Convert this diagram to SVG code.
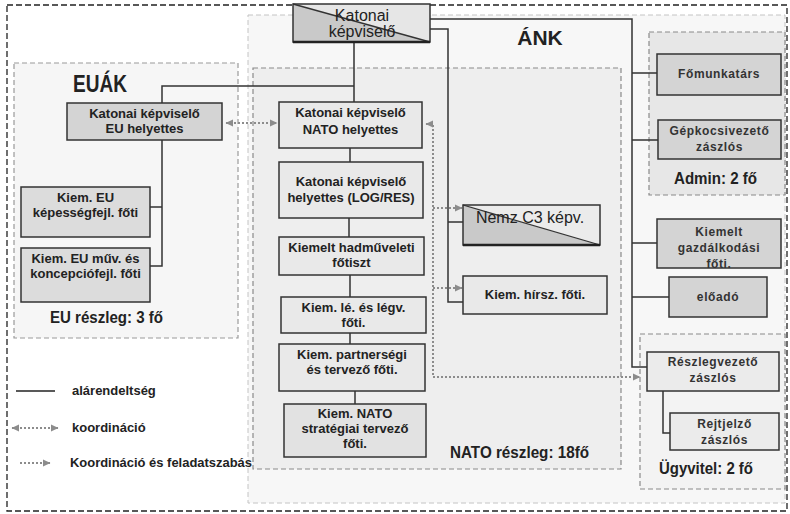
<svg xmlns="http://www.w3.org/2000/svg" width="790" height="514" viewBox="0 0 790 514">
<defs>
<marker id="ah" markerWidth="8" markerHeight="8" refX="7" refY="4" orient="auto-start-reverse" markerUnits="userSpaceOnUse">
<path d="M0,0.5 L7.5,4 L0,7.5 Z" fill="#8c8c8c"/>
</marker>
</defs>
<style>
text{font-family:"Liberation Sans",Arial,sans-serif;fill:#222}
.t{font-weight:bold;font-size:13px;text-anchor:middle}
.tr{font-weight:bold;font-size:12px;text-anchor:middle;letter-spacing:0.6px;fill:#333}
.big{font-weight:bold;font-size:16px}
.lg{font-weight:bold;font-size:13px}
.box{stroke:#333;stroke-width:1.5}
.nato{fill:#e9e9e9}
.dark{fill:#d4d4d4}
.con{fill:none;stroke:#333;stroke-width:1.5}
.dot{fill:none;stroke:#8c8c8c;stroke-width:2;stroke-dasharray:2 2}
</style>
<rect x="0" y="0" width="790" height="514" fill="#fff"/>
<g id="regions">
<rect x="248" y="15" width="537" height="488" fill="#f7f7f7" stroke="#c4c4c4" stroke-width="1" stroke-dasharray="5 3"/>
<rect x="14" y="63" width="224" height="275" fill="#f6f6f6" stroke="#9a9a9a" stroke-width="1.2" stroke-dasharray="5 3"/>
<rect x="253" y="68" width="368" height="401" fill="#eeeeee" stroke="#8a8a8a" stroke-width="1.2" stroke-dasharray="5 3"/>
<rect x="649" y="32" width="136" height="163" fill="#e7e7e7" stroke="#8a8a8a" stroke-width="1.2" stroke-dasharray="5 3"/>
<rect x="640" y="334" width="145" height="155" fill="#f3f3f3" stroke="#8a8a8a" stroke-width="1.2" stroke-dasharray="5 3"/>
<rect x="7" y="5" width="780" height="506" fill="none" stroke="#222" stroke-width="1.3" stroke-dasharray="6 3"/>
</g>
<g id="labels">
<text x="73" y="92" font-weight="bold" font-size="23" textLength="54" lengthAdjust="spacingAndGlyphs">EUÁK</text>
<text x="540" y="45" font-weight="bold" font-size="21" text-anchor="middle">ÁNK</text>
<text class="big" x="50" y="323" textLength="113" lengthAdjust="spacingAndGlyphs">EU részleg: 3 fő</text>
<text class="big" x="450" y="458" textLength="139" lengthAdjust="spacingAndGlyphs">NATO részleg: 18fő</text>
<text class="big" x="674" y="184" textLength="83" lengthAdjust="spacingAndGlyphs">Admin: 2 fő</text>
<text class="big" x="659" y="474" textLength="94" lengthAdjust="spacingAndGlyphs">Ügyvitel: 2 fő</text>
</g>
<g id="connectors">
<path class="con" d="M354,42 V102 M354,86 H162 V103"/>
<path class="con" d="M162,140 V266 H150 M162,207 H150"/>
<path class="con" d="M430,19 H632 V367 H648 M632,73 H657 M632,140 H658 M632,243 H657 M632,297 H669"/>
<path class="con" d="M430,29 H448 V302 H463 M448,222 H463"/>
<path class="con" d="M350,148 V162 M349,218 V237 M350,275 V297 M350,333 V344 M355,391 V404"/>
<path class="con" d="M663,391 V433 H670"/>
<path class="dot" d="M226,123 H277" marker-start="url(#ah)" marker-end="url(#ah)"/>
<path class="dot" d="M426,124 H433 V377 H640" marker-start="url(#ah)" marker-end="url(#ah)"/>
<path class="dot" d="M433,208 H462" marker-end="url(#ah)"/>
<path class="dot" d="M433,288 H462" marker-end="url(#ah)"/>
</g>
<g id="katonai-kepviselo">
<polygon points="293,4 430,4 430,42" fill="#e6e6e6"/>
<polygon points="293,4 430,42 293,42" fill="#c9c9c9"/>
<rect class="box" x="293" y="4" width="137" height="38" fill="none"/>
<line x1="293" y1="4" x2="430" y2="42" stroke="#333" stroke-width="1.3"/>
<line x1="293" y1="42" x2="430" y2="42" stroke="#222" stroke-width="2.5"/>
<text x="362" y="21" font-size="16" text-anchor="middle">Katonai</text>
<text x="362" y="37" font-size="16" text-anchor="middle">képviselő</text>
</g>
<g id="eu-helyettes">
<rect class="box dark" x="67" y="103" width="155" height="37"/>
<text class="t" x="144.5" y="118">Katonai képviselő</text>
<text class="t" x="144.5" y="133">EU helyettes</text>
</g>
<g id="eu-kepessegfejl">
<rect class="box" x="21" y="187" width="129" height="50" fill="#dcdcdc"/>
<text class="t" x="85.5" y="202">Kiem. EU</text>
<text class="t" x="85.5" y="217">képességfejl. főti</text>
</g>
<g id="eu-muv">
<rect class="box" x="21" y="248" width="129" height="54" fill="#dcdcdc"/>
<text class="t" x="85.5" y="263">Kiem. EU műv. és</text>
<text class="t" x="85.5" y="278">koncepciófejl. főti</text>
</g>
<g id="nato-helyettes">
<rect class="box nato" x="279" y="102" width="143" height="46"/>
<text class="t" x="350.5" y="117">Katonai képviselő</text>
<text class="t" x="350.5" y="134">NATO helyettes</text>
</g>
<g id="log-res">
<rect class="box nato" x="279" y="162" width="144" height="56"/>
<text class="t" x="351" y="186">Katonai képviselő</text>
<text class="t" x="351" y="202">helyettes (LOG/RES)</text>
</g>
<g id="hadmuveleti">
<rect class="box nato" x="279" y="237" width="145" height="38"/>
<text class="t" x="351.5" y="252">Kiemelt hadműveleti</text>
<text class="t" x="351.5" y="267">főtiszt</text>
</g>
<g id="le-legv">
<rect class="box nato" x="281" y="297" width="145" height="36"/>
<text class="t" x="353.5" y="312">Kiem. lé. és légv.</text>
<text class="t" x="353.5" y="327">főti.</text>
</g>
<g id="partnersegi">
<rect class="box nato" x="279" y="344" width="146" height="47"/>
<text class="t" x="352" y="359">Kiem. partnerségi</text>
<text class="t" x="352" y="374">és tervező főti.</text>
</g>
<g id="strategiai">
<rect class="box" x="284" y="404" width="142" height="53" fill="#e2e2e2"/>
<text class="t" x="355" y="418">Kiem. NATO</text>
<text class="t" x="355" y="433">stratégiai tervező</text>
<text class="t" x="355" y="448">főti.</text>
</g>
<g id="nemz-c3">
<polygon points="463,205 600,205 600,245" fill="#ebebeb"/>
<polygon points="463,205 600,245 463,245" fill="#c9c9c9"/>
<rect class="box" x="463" y="205" width="137" height="40" fill="none"/>
<line x1="463" y1="205" x2="600" y2="245" stroke="#333" stroke-width="1.3"/>
<line x1="463" y1="245" x2="600" y2="245" stroke="#222" stroke-width="2.5"/>
<text x="530" y="223" font-size="16" text-anchor="middle" fill="#444">Nemz C3 képv.</text>
</g>
<g id="hirsz">
<rect class="box nato" x="463" y="276" width="144" height="38"/>
<text class="t" x="535" y="299">Kiem. hírsz. főti.</text>
</g>
<g id="fomunkatars">
<rect class="box dark" x="657" y="54" width="124" height="41"/>
<text class="tr" x="719" y="78">Főmunkatárs</text>
</g>
<g id="gepkocsivezeto">
<rect class="box dark" x="658" y="120" width="123" height="39"/>
<text class="tr" x="719.5" y="135">Gépkocsivezető</text>
<text class="tr" x="719.5" y="151">zászlós</text>
</g>
<g id="gazdalkodasi">
<rect class="box dark" x="657" y="219" width="124" height="49"/>
<text class="tr" x="719" y="236">Kiemelt</text>
<text class="tr" x="719" y="252">gazdálkodási</text>
<text class="tr" x="719" y="268">főti.</text>
</g>
<g id="eloado">
<rect class="box dark" x="669" y="277" width="98" height="40"/>
<text class="tr" x="718" y="301">előadó</text>
</g>
<g id="reszlegvezeto">
<rect class="box" x="647" y="352" width="132" height="39" fill="#ebebeb"/>
<text class="tr" x="713" y="366">Részlegvezető</text>
<text class="tr" x="713" y="382">zászlós</text>
</g>
<g id="rejtjelzo">
<rect class="box" x="670" y="413" width="109" height="37" fill="#ebebeb"/>
<text class="tr" x="724.5" y="428">Rejtjelző</text>
<text class="tr" x="724.5" y="444">zászlós</text>
</g>
<g id="legend">
<line x1="16" y1="391" x2="55" y2="391" stroke="#222" stroke-width="1.5"/>
<text class="lg" x="72" y="395">alárendeltség</text>
<path class="dot" d="M12,428 H58" marker-start="url(#ah)" marker-end="url(#ah)"/>
<text class="lg" x="72" y="432">koordináció</text>
<path class="dot" d="M20,463 H50" marker-end="url(#ah)"/>
<text class="lg" x="70" y="467" textLength="182" lengthAdjust="spacingAndGlyphs">Koordináció és feladatszabás</text>
</g>
</svg>
